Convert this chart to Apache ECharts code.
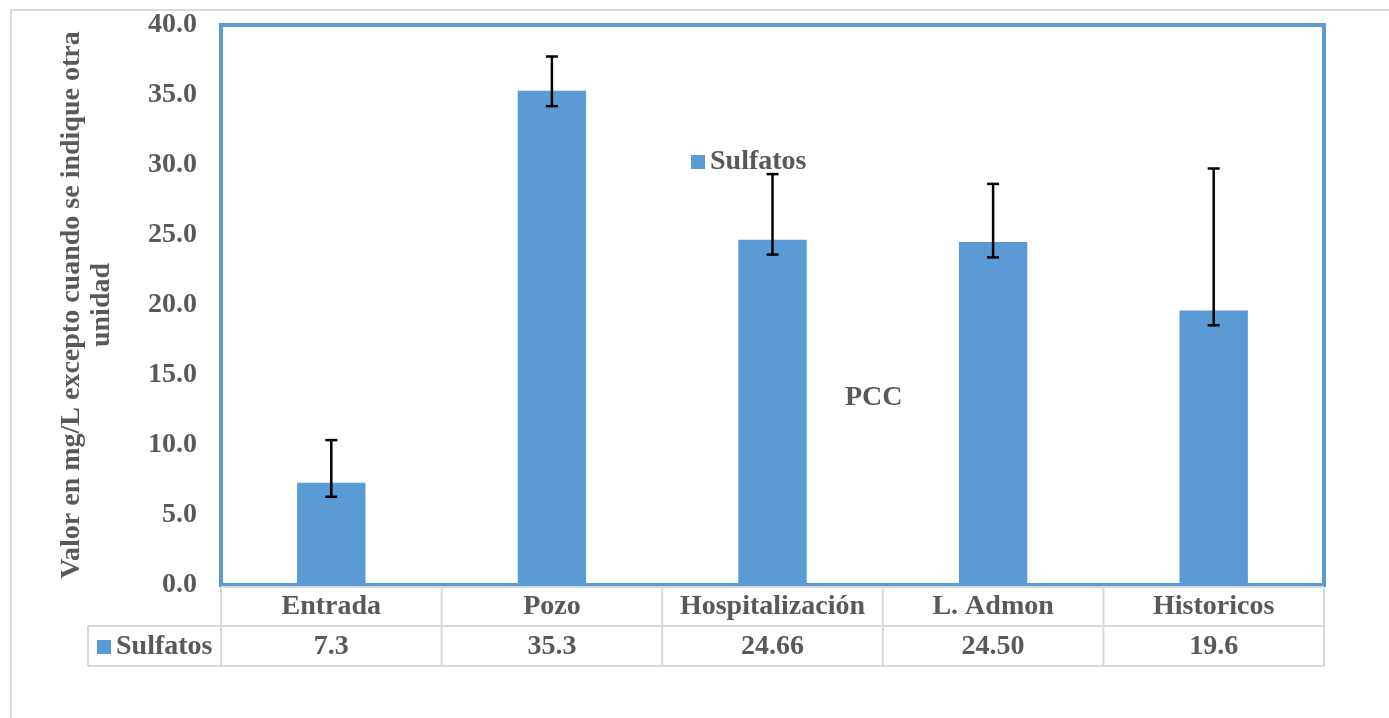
<!DOCTYPE html>
<html>
<head>
<meta charset="utf-8">
<script src="https://cdn.jsdelivr.net/npm/echarts@6/dist/echarts.min.js"></script>
<style>
html,body{margin:0;padding:0;background:#fff;}
#chart{width:1389px;height:718px;}
</style>
</head>
<body>
<div id="chart"></div>
<script>
// ---- data ----
const categories = ['Entrada', 'Pozo', 'Hospitalización', 'L. Admon', 'Historicos'];
const sulfatos = [7.3, 35.3, 24.66, 24.50, 19.6];
const tableLabels = ['7.3', '35.3', '24.66', '24.50', '19.6'];
const errLow = [6.3, 34.2, 23.6, 23.4, 18.55];
const errHigh = [10.35, 37.75, 29.35, 28.65, 29.75];
const yTicks = [0, 5, 10, 15, 20, 25, 30, 35, 40];
const seriesName = 'Sulfatos';

// ---- layout ----
const W = 1389, H = 718;
const gL = 221, gR = 65, gT = 25, gH = 560;
const x0 = gL, x1 = W - gR, y0 = gT + gH;
const BLUE = '#5B9BD5', TXT = '#595959', LINE = '#D9D9D9';
const FONT = '"Liberation Serif", "Times New Roman", serif';
const FS = 28;

const chart = echarts.init(document.getElementById('chart'), null, {renderer: 'canvas'});

const catW = (x1 - x0) / categories.length;
const rowTop = y0 + 2, rowMid = 626, rowBot = 666, keyLeft = 88;

const graphics = [];
// outer frame
graphics.push({type: 'rect', shape: {x: 11, y: 10, width: 1500, height: 900}, style: {fill: null, stroke: LINE, lineWidth: 2}, silent: true, z: -1});
// table lines
graphics.push({type: 'line', shape: {x1: x0, y1: rowTop, x2: x1, y2: rowTop}, style: {stroke: LINE, lineWidth: 2}});
graphics.push({type: 'line', shape: {x1: keyLeft, y1: rowMid, x2: x1, y2: rowMid}, style: {stroke: LINE, lineWidth: 2}});
graphics.push({type: 'line', shape: {x1: keyLeft, y1: rowBot, x2: x1, y2: rowBot}, style: {stroke: LINE, lineWidth: 2}});
graphics.push({type: 'line', shape: {x1: keyLeft, y1: rowMid, x2: keyLeft, y2: rowBot}, style: {stroke: LINE, lineWidth: 2}});
for (let i = 0; i <= categories.length; i++) {
  const x = x0 + i * catW;
  graphics.push({type: 'line', shape: {x1: x, y1: rowTop, x2: x, y2: rowBot}, style: {stroke: LINE, lineWidth: 2}});
}
// legend key in table
graphics.push({type: 'rect', shape: {x: 97, y: 640, width: 14, height: 14}, style: {fill: BLUE}});
graphics.push({type: 'text', x: 116, y: 647, style: {text: seriesName, fill: TXT, font: 'bold ' + FS + 'px ' + FONT, textVerticalAlign: 'middle'}});

const option = {
  animation: false,
  backgroundColor: '#fff',
  textStyle: {fontFamily: FONT},
  title: {
    text: 'PCC', left: 840, top: 379,
    textStyle: {fontFamily: FONT, fontWeight: 'bold', fontSize: FS, color: TXT}
  },
  legend: {
    data: [seriesName], left: 686, top: 143, itemWidth: 14, itemHeight: 14, itemGap: 6,
    icon: 'rect',
    textStyle: {fontFamily: FONT, fontWeight: 'bold', fontSize: FS, color: TXT}
  },
  grid: {left: gL, right: gR, top: gT, height: gH, show: true, borderColor: BLUE, borderWidth: 4, backgroundColor: 'transparent'},
  xAxis: [{
    type: 'category', data: categories, position: 'bottom',
    axisLine: {show: false}, axisTick: {show: false},
    axisLabel: {fontFamily: FONT, fontWeight: 'bold', fontSize: FS, color: TXT, margin: 22, verticalAlign: 'middle', interval: 0}
  }, {
    type: 'category', data: categories, position: 'bottom', offset: 40,
    axisLine: {show: false}, axisTick: {show: false},
    axisLabel: {fontFamily: FONT, fontWeight: 'bold', fontSize: FS, color: TXT, margin: 22, verticalAlign: 'middle', interval: 0,
      formatter: (v, i) => tableLabels[i]}
  }],
  yAxis: {
    type: 'value', min: yTicks[0], max: yTicks[yTicks.length - 1], interval: yTicks[1] - yTicks[0],
    axisLine: {show: false}, axisTick: {show: false}, splitLine: {show: false},
    axisLabel: {fontFamily: FONT, fontWeight: 'bold', fontSize: FS, color: TXT, margin: 24, formatter: v => v.toFixed(1)},
    name: 'Valor en mg/L excepto cuando se indique otra\nunidad',
    nameLocation: 'middle', nameGap: 104, nameRotate: 90,
    nameTextStyle: {fontFamily: FONT, fontWeight: 'bold', fontSize: FS, color: TXT, lineHeight: 30}
  },
  series: [{
    name: seriesName, type: 'bar', data: sulfatos, barWidth: '31%',
    itemStyle: {color: BLUE}, z: 2
  }, {
    type: 'custom', name: 'err', silent: true, z: 5,
    data: categories.map((c, i) => [i, errLow[i], errHigh[i]]),
    encode: {x: 0, y: [1, 2]},
    renderItem: function (params, api) {
      const lo = api.coord([api.value(0), api.value(1)]);
      const hi = api.coord([api.value(0), api.value(2)]);
      const cap = 6;
      return {
        type: 'group',
        children: [
          {type: 'line', shape: {x1: hi[0], y1: hi[1], x2: lo[0], y2: lo[1]}, style: {stroke: '#000', lineWidth: 2.5}},
          {type: 'line', shape: {x1: hi[0] - cap, y1: hi[1], x2: hi[0] + cap, y2: hi[1]}, style: {stroke: '#000', lineWidth: 2.5}},
          {type: 'line', shape: {x1: lo[0] - cap, y1: lo[1], x2: lo[0] + cap, y2: lo[1]}, style: {stroke: '#000', lineWidth: 2.5}}
        ]
      };
    }
  }],
  graphic: graphics
};
chart.setOption(option);
</script>
</body>
</html>
